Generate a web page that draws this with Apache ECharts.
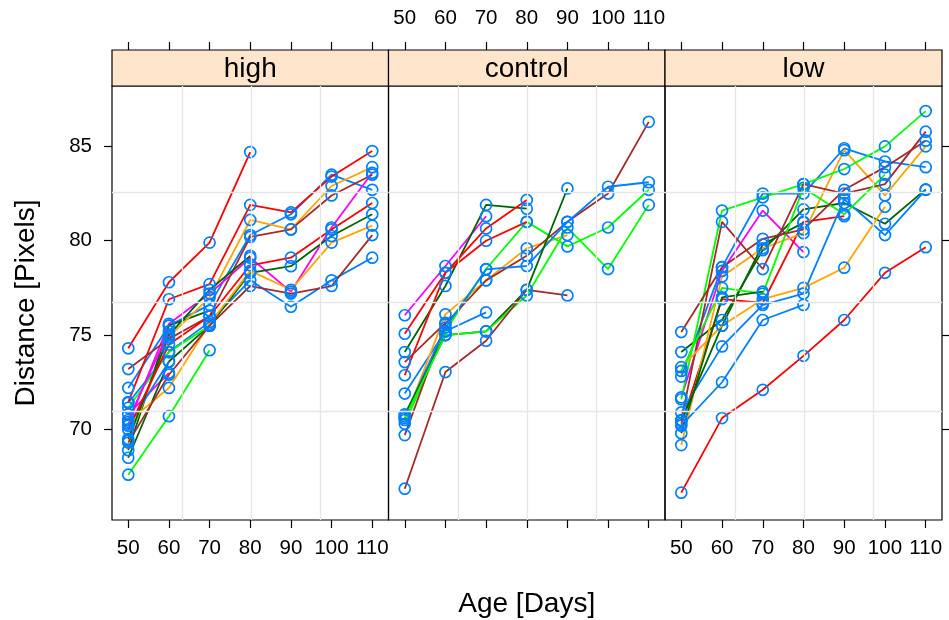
<!DOCTYPE html>
<html>
<head>
<meta charset="utf-8">
<script src="https://cdn.jsdelivr.net/npm/echarts@6/dist/echarts.min.js"></script>
<style>
html, body { margin: 0; padding: 0; background: #fff; }
#chart { width: 949px; height: 620px; }
</style>
</head>
<body>
<div id="chart"></div>
<script>
// ages at which the rats were measured
const ages = [50, 60, 70, 80, 90, 100, 110];
const panelNames = ['high', 'control', 'low'];
const distanceTicks = [70, 75, 80, 85];
// background grid (lattice "g")
const gridAges = [63.2, 80.2, 97.2];
const gridDistances = [70.95, 76.73, 82.56];

// one row per rat, values at ages 50..110 (null = no measurement)
const highRats = [
  [72.2, 75.5, 76.6, 80.3, 81.4, 83.5, 82.7],
  [70.3, 75.6, 77.2, 79.1, 77.3, 80.7, 83.6],
  [68.9, 75.5, 76.3],
  [74.3, 77.8, 79.9, 84.7],
  [69.4, 74.9, 77.0, 81.1, 80.6, 82.9, 83.9],
  [67.6, 70.7, 74.2],
  [73.2, 74.8, 76.0, 80.2, 80.6, 82.4, 83.5],
  [71.4, 74.1, 75.7, 77.9, 76.5, 77.9, 79.1],
  [70.8, 73.0],
  [68.5, 73.6, 75.5, 78.3, 78.65, 80.25, 81.4],
  [71.45, 76.9, 77.7, 81.9, 81.5, 83.4, 84.75],
  [70.4, 72.2, 75.6, 78.4, 77.4, 79.9, 80.8],
  [71.15, 74.1, 75.5],
  [69.3, 72.9, 75.5, 77.6, 77.2, 77.6, 80.3],
  [70.2, 73.6],
  [70.5, 75.2],
  [69.5, 75.0, 77.4, 79.2],
  [70.0, 74.5, 76.0, 78.7, 79.1, 80.6, 82.0]
];
const highColors = ['#0080ff', '#ff00ff', '#006400', '#ff0000', '#ffa500', '#00ff00', '#a52a2a',
  '#0080ff', '#ff00ff', '#006400', '#ff0000', '#ffa500', '#00ff00', '#a52a2a',
  '#0080ff', '#ff00ff', '#006400', '#ff0000'];

const controlRats = [
  [71.9, 75.2, 76.2],
  [76.05, 78.66, 81.3],
  [74.1, 77.6, 81.9, 81.7],
  [75.07, 78.3, 80.65, 82.16],
  [70.5, 76.1, 77.9, 79.6, 80.3],
  [70.3, 75.2, 78.5, 81.0, 79.7, 80.7, 82.7],
  [69.7, 75.6, 77.9, 79.2, 81.0, 82.5, 86.3],
  [70.7, 75.4, 78.48, 78.66, 81.0, 82.86, 83.1],
  [70.8, 75.0, 75.2, 77.4, 82.77],
  [72.87, 78.3, 80.0, 81.0],
  [70.6, 75.0, 75.2, 77.1, 80.7, 78.5, 81.9],
  [66.86, 73.04, 74.7, 77.4, 77.1],
  [73.57, 75.65]
];
const controlColors = ['#0080ff', '#ff00ff', '#006400', '#ff0000', '#ffa500', '#00ff00', '#a52a2a',
  '#0080ff', '#006400', '#ff0000', '#00ff00', '#a52a2a', '#a52a2a'];

const lowRats = [
  [72.8, 78.6, 82.5, 82.5, 84.9, 84.2, 83.9],
  [71.7, 78.4, 81.6, 79.4],
  [74.1, 75.8, 79.5, 81.66, 82.0, 80.9, 82.72],
  [70.3, 76.9, 76.7, 81.0, 81.3],
  [69.17, 78.1, 79.6, 80.4, 84.8, 82.4, 85.0],
  [71.6, 81.6, 82.3, 83.0, 83.8, 85.0, 86.87],
  [70.5, 81.0, 78.5, 83.0, 82.5, 83.0, 85.78],
  [70.9, 74.4, 76.6, 77.2, 82.2, 80.3, 82.7],
  [70.45, 75.5, 79.8, 80.96],
  [66.65, 70.6, 72.1, 73.9, 75.8, 78.3, 79.66],
  [73.3, 75.5, 76.9, 77.5, 78.57, 81.8],
  [73.1, 77.5, 77.2, 82.8, 81.4, 83.5],
  [75.16, 78.6, 80.1, 80.6, 82.7, 83.9, 85.3],
  [70.2, 72.5, 75.8, 76.6],
  [69.8, 77.0, 77.3]
];
const lowColors = ['#0080ff', '#ff00ff', '#006400', '#ff0000', '#ffa500', '#00ff00', '#a52a2a',
  '#0080ff', '#006400', '#ff0000', '#ffa500', '#00ff00', '#a52a2a', '#0080ff', '#006400'];

const font = '"Liberation Sans", Arial, Helvetica, sans-serif';
const panelLeft = [112, 388.5, 665];
const panelRight = 942;
const panelTop = 86;
const panelH = 434;
const stripH = 36;

let chart = echarts.init(document.getElementById('chart'));

function panelWidth(i) {
  return (i === 2 ? panelRight : panelLeft[i + 1]) - panelLeft[i];
}

function ratSeries(rats, colors, gi) {
  return rats.map((r, k) => ({
    type: 'line',
    xAxisIndex: gi,
    yAxisIndex: gi,
    data: r.map((v, j) => [ages[j], v]).filter(p => p[1] != null),
    symbol: 'circle',
    symbolSize: 11,
    showAllSymbol: true,
    lineStyle: {color: colors[k], width: 1.8},
    itemStyle: {color: 'rgba(0,0,0,0)', borderColor: '#0080ff', borderWidth: 1.7},
    emphasis: {disabled: true},
    silent: true,
    z: 3
  }));
}

function gridSeries(gi) {
  return {
    type: 'line',
    xAxisIndex: gi,
    yAxisIndex: gi,
    data: [],
    silent: true,
    z: 1,
    markLine: {
      silent: true,
      symbol: ['none', 'none'],
      label: {show: false},
      lineStyle: {color: '#e6e6e6', width: 1.3, type: 'solid'},
      data: gridAges.map(a => ({xAxis: a})).concat(gridDistances.map(d => ({yAxis: d})))
    }
  };
}

const tickStyle = {color: '#000', width: 1.2};

let xAxes = [];
for (let i = 0; i < 3; i++) {
  xAxes.push({
    type: 'value', gridIndex: i, position: 'bottom', min: 46, max: 114,
    axisLine: {show: false},
    axisTick: {show: true, inside: false, length: 8, customValues: ages, lineStyle: tickStyle},
    axisLabel: {show: i !== 1, customValues: ages, interval: 0, margin: 18, fontSize: 20.5, color: '#000', fontFamily: font},
    splitLine: {show: false},
    name: i === 1 ? 'Age [Days]' : '',
    nameLocation: 'middle',
    nameGap: 70,
    nameTextStyle: {fontSize: 28, color: '#000', fontFamily: font}
  });
}
for (let i = 0; i < 3; i++) {
  xAxes.push({
    type: 'value', gridIndex: i, position: 'top', offset: stripH, min: 46, max: 114,
    axisLine: {show: false},
    axisTick: {show: true, inside: false, length: 8, customValues: ages, lineStyle: tickStyle},
    axisLabel: {show: i === 1, customValues: ages, interval: 0, margin: 21, fontSize: 20.5, color: '#000', fontFamily: font},
    splitLine: {show: false}
  });
}

let yAxes = [0, 1, 2].map(i => ({
  type: 'value', gridIndex: i, position: i === 2 ? 'right' : 'left', min: 65.2, max: 88.2,
  axisLine: {show: false},
  axisTick: {show: i !== 1, inside: false, length: 8, customValues: distanceTicks, lineStyle: tickStyle},
  axisLabel: {show: i === 0, customValues: distanceTicks, margin: 20, fontSize: 20.5, color: '#000', fontFamily: font},
  splitLine: {show: false},
  name: i === 0 ? 'Distance [Pixels]' : '',
  nameLocation: 'middle',
  nameGap: 72,
  nameTextStyle: {fontSize: 28, color: '#000', fontFamily: font}
}));

let strips = panelNames.map((name, i) => ({
  type: 'group',
  children: [
    {type: 'rect', shape: {x: panelLeft[i], y: panelTop - stripH, width: panelWidth(i), height: stripH},
      style: {fill: '#ffe5cc', stroke: '#000', lineWidth: 1.2}},
    {type: 'text', x: panelLeft[i] + panelWidth(i) / 2, y: panelTop - stripH / 2 + 1,
      style: {text: name, fontSize: 28, fontFamily: font, fill: '#000', align: 'center', verticalAlign: 'middle'}}
  ]
}));

chart.setOption({
  animation: false,
  backgroundColor: '#fff',
  grid: panelLeft.map((l, i) => ({
    left: l, top: panelTop, width: panelWidth(i), height: panelH,
    show: true, borderColor: '#000', borderWidth: 1.2, backgroundColor: 'transparent',
    containLabel: false, outerBoundsMode: 'none'
  })),
  xAxis: xAxes,
  yAxis: yAxes,
  graphic: strips,
  series: [gridSeries(0), gridSeries(1), gridSeries(2)]
    .concat(ratSeries(highRats, highColors, 0))
    .concat(ratSeries(controlRats, controlColors, 1))
    .concat(ratSeries(lowRats, lowColors, 2))
});
</script>
</body>
</html>
